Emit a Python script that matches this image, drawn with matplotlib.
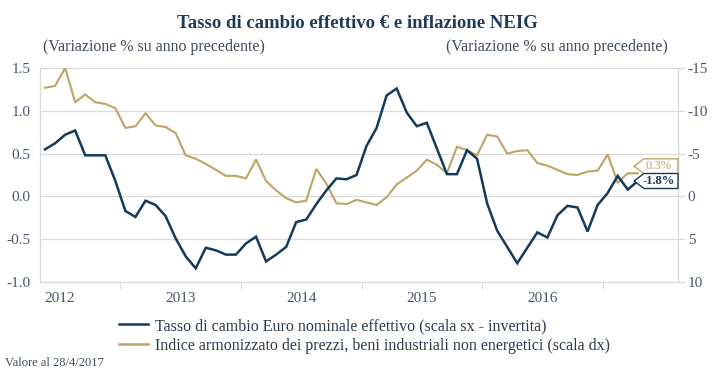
import numpy as np
import matplotlib.pyplot as plt
import matplotlib.transforms as mtransforms
from matplotlib.patches import Polygon
from matplotlib.lines import Line2D

plt.rcParams['font.family'] = ['Liberation Serif', 'DejaVu Serif']
plt.rcParams['axes.unicode_minus'] = False

# months counted from Jan 2012 (0) -> May 2012 .. Apr 2017
months = np.arange(4, 64)

# NEIG inflation, % y/y (left axis)
neig = [1.27, 1.29, 1.50, 1.10, 1.19, 1.10, 1.08, 1.03, 0.80, 0.82,
        0.97, 0.83, 0.81, 0.74, 0.48, 0.44, 0.38, 0.31, 0.24, 0.24,
        0.21, 0.43, 0.18, 0.07, -0.02, -0.07, -0.05, 0.32, 0.15, -0.08,
        -0.09, -0.04, -0.07, -0.10, -0.01, 0.14, 0.22, 0.30, 0.43, 0.37,
        0.27, 0.58, 0.54, 0.48, 0.72, 0.70, 0.50, 0.53, 0.54, 0.39,
        0.36, 0.31, 0.26, 0.25, 0.29, 0.30, 0.49, 0.16, 0.27, 0.27]

# nominal effective exchange rate, % y/y (right axis, inverted)
eer = [-5.5, -6.2, -7.2, -7.7, -4.8, -4.8, -4.8, -1.8, 1.7, 2.4,
       0.5, 1.0, 2.3, 4.9, 7.0, 8.4, 6.0, 6.3, 6.8, 6.8,
       5.5, 4.7, 7.6, 6.8, 5.9, 3.0, 2.7, 0.9, -0.7, -2.1,
       -2.0, -2.5, -5.9, -8.0, -11.8, -12.6, -9.8, -8.2, -8.6, -5.6,
       -2.6, -2.6, -5.4, -4.4, 0.8, 4.0, 5.9, 7.8, 6.0, 4.2,
       4.8, 2.2, 1.1, 1.3, 4.1, 1.0, -0.4, -2.4, -0.8, -1.8]

years = ['2012', '2013', '2014', '2015', '2016']
left_ticks = [-1.0, -0.5, 0.0, 0.5, 1.0, 1.5]
right_ticks = [-15, -10, -5, 0, 5, 10]

navy = '#133a5c'
gold = '#bfa367'
grid = '#d9d9d9'
txt = '#4a5668'

fig = plt.figure(figsize=(7.15, 3.81), dpi=100)
ax = fig.add_axes([40 / 715, 1 - 282 / 381, 638 / 715, 214 / 381])
ax2 = ax.twinx()

ax.plot(months, neig, color=gold, lw=1.5, solid_joinstyle='miter')
ax2.plot(months, eer, color=navy, lw=1.8, solid_joinstyle='miter')

ax.set_xlim(3.5, 67.0)
ax.set_ylim(-1.0, 1.5)
ax2.set_ylim(10, -15)

ax.set_yticks(left_ticks)
ax.set_yticklabels(['%.1f' % v for v in left_ticks])
ax2.set_yticks(right_ticks)
ax2.set_yticklabels([str(v) for v in right_ticks])
ax.grid(axis='y', color=grid, lw=0.9)
ax.set_axisbelow(True)

# year boundaries as ticks, labels in the middle of each year
ax.set_xticks([11.5 + 12 * i for i in range(5)])
ax.set_xticklabels([])
ax.set_xticks([5.5 + 12 * i for i in range(5)], minor=True)
ax.set_xticklabels(years, minor=True)
ax.tick_params(axis='x', which='major', length=5, color=grid)
ax.tick_params(axis='x', which='minor', length=0, pad=7, labelsize=11, labelcolor=txt)
ax.tick_params(axis='y', length=0, pad=7, labelsize=11, labelcolor=txt)
ax2.tick_params(axis='y', length=5, color=grid, pad=2, labelsize=11, labelcolor=txt)

for a in (ax, ax2):
    a.spines['top'].set_visible(False)
    for s in ('left', 'right', 'bottom'):
        a.spines[s].set_color(grid)

# end-of-line tags
def tag(axis, yval, s, color, bold, dy):
    w, h, tip = 44, 15, 10
    blend = mtransforms.blended_transform_factory(ax.transAxes, axis.transData)
    tr = fig.dpi_scale_trans + mtransforms.ScaledTranslation(1.0, yval, blend)
    pts = np.array([(0, h / 2 + dy), (-w + tip, h / 2 + dy), (-w, dy),
                    (-w + tip, -h / 2 + dy), (0, -h / 2 + dy)]) / 100.0
    fig.add_artist(Polygon(pts, closed=True, transform=tr, facecolor='white',
                           edgecolor=color, lw=1.0))
    fig.text(-19 / 100.0, dy / 100.0, s, transform=tr, ha='center', va='center',
             fontsize=9, color=color, fontweight='bold' if bold else 'normal')

tag(ax, neig[-1], '0.3%', gold, False, 7)
tag(ax2, eer[-1], '-1.8%', navy, True, 0)

fig.text(0.5, 1 - 24 / 381, 'Tasso di cambio effettivo € e inflazione NEIG',
         ha='center', va='center', fontsize=13.5, fontweight='bold', color='#1f3b5a')
fig.text(43 / 715, 1 - 47 / 381, '(Variazione % su anno precedente)',
         ha='left', va='center', fontsize=11.4, color='#3e4a5a')
fig.text(668 / 715, 1 - 47 / 381, '(Variazione % su anno precedente)',
         ha='right', va='center', fontsize=11.4, color='#3e4a5a')

handles = [Line2D([], [], color=navy, lw=1.8), Line2D([], [], color=gold, lw=1.8)]
labels = ['Tasso di cambio Euro nominale effettivo (scala sx - invertita)',
          'Indice armonizzato dei prezzi, beni industriali non energetici (scala dx)']
fig.legend(handles, labels, loc='upper left', bbox_to_anchor=(119 / 715, 1 - 318 / 381),
           frameon=False, fontsize=11.5, handlelength=1.8, handletextpad=0.45,
           labelspacing=0.25, borderpad=0, borderaxespad=0, labelcolor='#2e3a4a')

fig.text(5 / 715, 1 - 363 / 381, 'Valore al 28/4/2017', ha='left', va='center',
         fontsize=9, color='#3e4a5a')

fig.savefig('out.png', dpi=100)
